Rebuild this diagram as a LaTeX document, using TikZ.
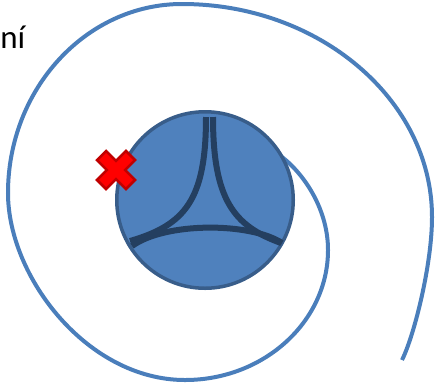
\documentclass[tikz,border=0pt]{standalone}
\usepackage{fontspec}
\setmainfont{Carlito}
\definecolor{spiralblue}{HTML}{4A7EBB}
\definecolor{valvefill}{HTML}{4F81BD}
\definecolor{valveedge}{HTML}{385D8A}
\definecolor{leafline}{HTML}{243F60}
\definecolor{crossred}{HTML}{FF0000}
\definecolor{crossedge}{HTML}{C00000}
\begin{document}
\begin{tikzpicture}[x=1pt,y=-1pt]
\useasboundingbox (0,0) rectangle (435,384);

\node[anchor=base east,inner sep=0,font=\fontsize{33}{40}\selectfont] (caption) at (25.5,48.3) {ní};

\draw[spiralblue,line width=4pt] (282,157) .. controls (305,175) and (328,210) .. (328,250)
    .. controls (328,321.5) and (264,380) .. (185,380)
    .. controls (87.6,380) and (8,277) .. (8,193)
    .. controls (8,89) and (86,4) .. (182,4)
    .. controls (319.5,4) and (432,100) .. (432,217)
    .. controls (432,265) and (414,336) .. (402,360);

\node[circle,fill=valvefill,draw=valveedge,line width=3.5pt,minimum size=176.5pt,inner sep=0] (valve) at (205,200) {};
\draw[leafline,line width=6pt] (206,117) .. controls (206,200) and (185,225) .. (130,241);
\draw[leafline,line width=6pt] (213,117) .. controls (213,200) and (234,226) .. (281,243);
\draw[leafline,line width=6pt] (132,246) .. controls (165,222) and (250,222) .. (282,243);

% cross
\draw[crossedge,fill=crossred,line width=2.5pt,shift={(116,170)},rotate=45]
    (6.5,6.5) -- (20.5,6.5) -- (20.5,-6.5) -- (6.5,-6.5) -- (6.5,-20.5) -- (-6.5,-20.5)
    -- (-6.5,-6.5) -- (-20.5,-6.5) -- (-20.5,6.5) -- (-6.5,6.5) -- (-6.5,20.5) -- (6.5,20.5) -- cycle;
\end{tikzpicture}
\end{document}
